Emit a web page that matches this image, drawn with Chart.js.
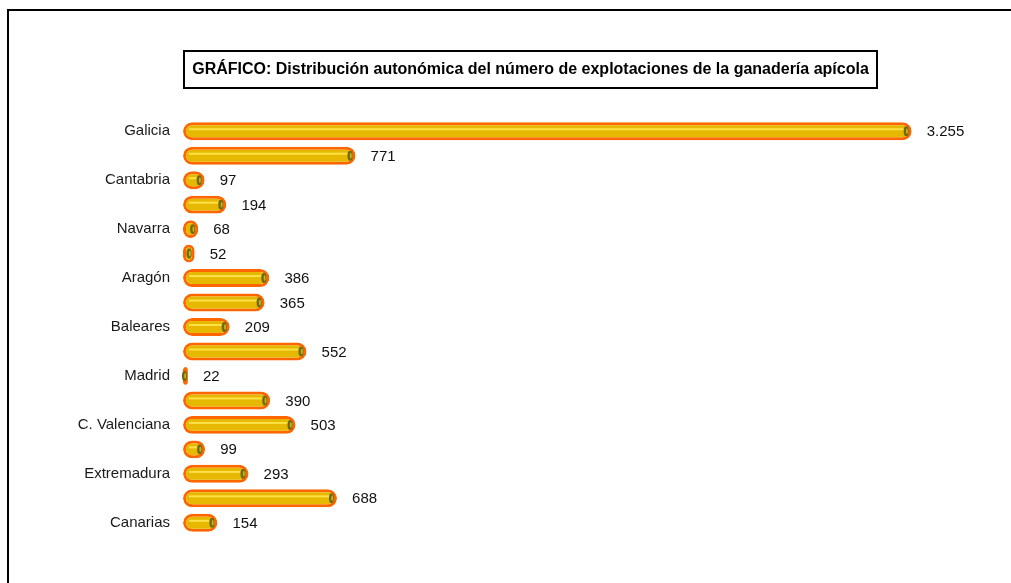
<!DOCTYPE html>
<html>
<head>
<meta charset="utf-8">
<script src="https://cdn.jsdelivr.net/npm/chart.js@4"></script>
<style>
  html, body { margin: 0; padding: 0; background: #fff; }
  #wrap { width: 1011px; height: 583px; }
</style>
</head>
<body>
<div id="wrap"><canvas id="apiChart"></canvas></div>
<script>
// Comunidades autónomas (only every other one gets a visible label)
const comunidades = ['Galicia', 'Asturias', 'Cantabria', 'País Vasco', 'Navarra', 'La Rioja',
  'Aragón', 'Cataluña', 'Baleares', 'Castilla y León', 'Madrid', 'Castilla-La Mancha',
  'C. Valenciana', 'R. de Murcia', 'Extremadura', 'Andalucía', 'Canarias'];
// Número de explotaciones
const explotaciones = [3255, 771, 97, 194, 68, 52, 386, 365, 209, 552, 22, 390, 503, 99, 293, 688, 154];

const tituloGrafico = 'GRÁFICO: Distribución autonómica del número de explotaciones de la ganadería apícola';
const fontFamily = '"Liberation Sans", Arial, sans-serif';

const fmt = v => v.toLocaleString('de-DE');

// Frame, title box, cylinder details and value labels
const decoPlugin = {
  id: 'deco',
  beforeDraw(chart) {
    const ctx = chart.ctx;
    ctx.save();
    ctx.fillStyle = '#fff';
    ctx.fillRect(0, 0, chart.width, chart.height);
    ctx.strokeStyle = '#000';
    ctx.lineWidth = 2;
    ctx.beginPath();
    ctx.moveTo(8, chart.height);
    ctx.lineTo(8, 10);
    ctx.lineTo(chart.width, 10);
    ctx.stroke();
    // title box
    ctx.strokeRect(184, 51, 693, 37);
    ctx.font = 'bold 16px ' + fontFamily;
    ctx.fillStyle = '#000';
    ctx.textAlign = 'center';
    ctx.textBaseline = 'middle';
    ctx.fillText(tituloGrafico, 530.5, 69.5);
    ctx.restore();
  },
  afterDatasetsDraw(chart) {
    const ctx = chart.ctx;
    const meta = chart.getDatasetMeta(0);
    ctx.save();
    meta.data.forEach((bar, i) => {
      const h = bar.height;
      const top = bar.y - h / 2;
      const left = bar.base;
      const right = bar.x;
      // highlight stripe
      if (right - left > 16) {
        ctx.fillStyle = 'rgba(255, 230, 80, 0.9)';
        ctx.fillRect(left + 6, top + 6, right - left - 14, 2);
      }
      // end cap ellipse
      const cx = Math.max(left + 1.5, right - 5.5);
      ctx.beginPath();
      ctx.ellipse(cx, bar.y, 2.6, h / 2 - 4, 0, 0, Math.PI * 2);
      ctx.fillStyle = '#6f6a10';
      ctx.fill();
      ctx.beginPath();
      ctx.ellipse(cx + 0.7, bar.y, 1, h / 2 - 6, 0, 0, Math.PI * 2);
      ctx.fillStyle = '#c8b020';
      ctx.fill();
      // value label
      ctx.font = '15px ' + fontFamily;
      ctx.fillStyle = '#111';
      ctx.textAlign = 'left';
      ctx.textBaseline = 'middle';
      ctx.fillText(fmt(explotaciones[i]), Math.max(right, left + 5) + 15, bar.y + 1);
    });
    ctx.restore();
  }
};

const config = {
  type: 'bar',
  data: {
    labels: comunidades,
    datasets: [{
      data: explotaciones,
      backgroundColor(c) {
        const chart = c.chart;
        const el = c.element;
        if (!el || !chart.chartArea || el.y == null || isNaN(el.y)) return '#e6b800';
        const h = 18;
        const g = chart.ctx.createLinearGradient(0, el.y - h / 2, 0, el.y + h / 2);
        g.addColorStop(0, '#e8b400');
        g.addColorStop(0.3, '#f8cc10');
        g.addColorStop(0.45, '#ffdc30');
        g.addColorStop(0.6, '#eab800');
        g.addColorStop(1, '#c89400');
        return g;
      },
      borderColor: '#ff6600',
      borderWidth: 3,
      borderSkipped: false,
      borderRadius: 9,
      barPercentage: 0.78,
      categoryPercentage: 0.94
    }]
  },
  options: {
    indexAxis: 'y',
    responsive: true,
    maintainAspectRatio: false,
    animation: false,
    layout: { padding: { left: 0, right: 22, top: 119, bottom: 48 } },
    plugins: {
      legend: { display: false },
      title: { display: false },
      tooltip: { enabled: false }
    },
    scales: {
      x: {
        display: false,
        min: 0,
        max: 3600
      },
      y: {
        afterFit(axis) { axis.width = 183; },
        grid: { display: false, drawTicks: false },
        border: { display: false },
        ticks: {
          autoSkip: false,
          padding: 13,
          color: '#1a1a1a',
          font: { family: fontFamily, size: 15 },
          callback(value, index) {
            return index % 2 === 0 ? this.getLabelForValue(value) : '';
          }
        }
      }
    }
  },
  plugins: [decoPlugin]
};

window.onload = () => {
  const ctx = document.getElementById('apiChart').getContext('2d');
  new Chart(ctx, config);
};
</script>
</body>
</html>
